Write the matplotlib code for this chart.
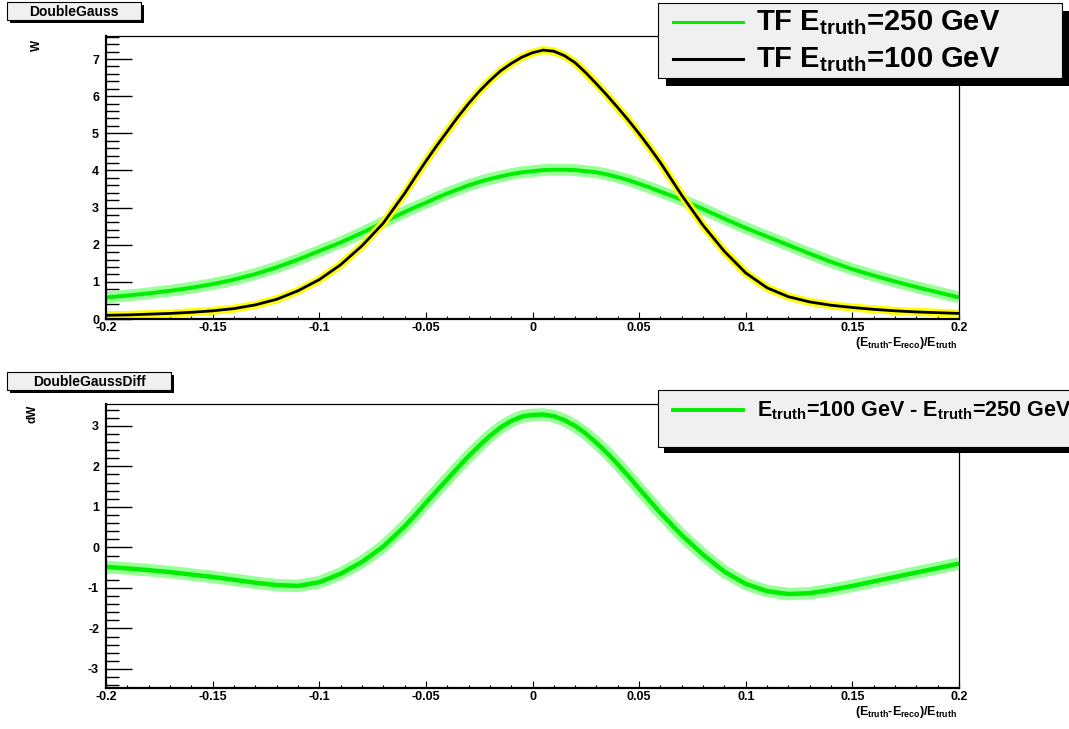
import numpy as np
import matplotlib
matplotlib.use("Agg")
import matplotlib.pyplot as plt
from matplotlib.patches import Rectangle
from matplotlib.lines import Line2D
from matplotlib.ticker import MultipleLocator

plt.rcParams['font.family'] = ['Liberation Sans', 'DejaVu Sans']
plt.rcParams['font.weight'] = 'bold'
plt.rcParams['axes.unicode_minus'] = False
plt.rcParams['mathtext.fontset'] = 'custom'
plt.rcParams['mathtext.rm'] = 'Liberation Sans:bold'
plt.rcParams['mathtext.it'] = 'Liberation Sans:bold'
plt.rcParams['mathtext.bf'] = 'Liberation Sans:bold'
plt.rcParams['mathtext.default'] = 'rm'

# x samples of (Etruth-Ereco)/Etruth (finer near the peak)
x = [-0.20, -0.19, -0.18, -0.17, -0.16, -0.15, -0.14, -0.13, -0.12, -0.11,
     -0.10, -0.09, -0.08, -0.07, -0.06, -0.055, -0.05, -0.045, -0.04, -0.035,
     -0.03, -0.025, -0.02, -0.015, -0.01, -0.005, 0.00, 0.005, 0.01, 0.015,
     0.02, 0.025, 0.03, 0.035, 0.04, 0.045, 0.05, 0.055, 0.06, 0.07,
     0.08, 0.09, 0.10, 0.11, 0.12, 0.13, 0.14, 0.15, 0.16, 0.17,
     0.18, 0.19, 0.20]

w_250 = [0.58, 0.63, 0.69, 0.76, 0.84, 0.94, 1.06, 1.21, 1.39, 1.60,
         1.83, 2.06, 2.32, 2.60, 2.88, 3.01, 3.13, 3.26, 3.38, 3.49,
         3.60, 3.69, 3.77, 3.84, 3.90, 3.95, 3.98, 4.01, 4.02, 4.02,
         4.01, 3.98, 3.95, 3.89, 3.82, 3.74, 3.64, 3.54, 3.43, 3.21,
         2.96, 2.70, 2.45, 2.22, 1.99, 1.76, 1.54, 1.34, 1.17, 1.01,
         0.86, 0.72, 0.58]

w_100 = [0.10, 0.11, 0.13, 0.15, 0.18, 0.22, 0.28, 0.38, 0.53, 0.76,
         1.06, 1.46, 1.97, 2.58, 3.38, 3.82, 4.25, 4.66, 5.05, 5.44,
         5.80, 6.13, 6.42, 6.68, 6.88, 7.05, 7.17, 7.24, 7.21, 7.09,
         6.90, 6.63, 6.33, 6.02, 5.69, 5.35, 4.99, 4.61, 4.21, 3.33,
         2.52, 1.82, 1.24, 0.84, 0.60, 0.46, 0.37, 0.31, 0.26, 0.22,
         0.19, 0.17, 0.15]

dw = [-0.48, -0.52, -0.56, -0.61, -0.67, -0.73, -0.80, -0.87, -0.93, -0.95,
      -0.86, -0.65, -0.36, 0.02, 0.52, 0.80, 1.10, 1.39, 1.68, 1.97,
      2.25, 2.51, 2.75, 2.96, 3.12, 3.23, 3.27, 3.28, 3.24, 3.14,
      3.00, 2.81, 2.58, 2.33, 2.05, 1.76, 1.45, 1.15, 0.85, 0.30,
      -0.18, -0.60, -0.90, -1.08, -1.15, -1.13, -1.05, -0.95, -0.84, -0.73,
      -0.62, -0.51, -0.40]

x_ticks = [-0.2, -0.15, -0.1, -0.05, 0, 0.05, 0.1, 0.15, 0.2]
x_ticklabels = ['-0.2', '-0.15', '-0.1', '-0.05', '0', '0.05', '0.1', '0.15', '0.2']

W, H = 1069, 729
fig = plt.figure(figsize=(W / 100, H / 100), dpi=100)

def px_axes(l, t, r, b):
    return fig.add_axes([l / W, 1 - b / H, (r - l) / W, (b - t) / H])

def style(ax, ylo, yhi):
    ax.set_xlim(-0.2, 0.2)
    ax.set_ylim(ylo, yhi)
    ax.set_xticks(x_ticks)
    ax.set_xticklabels(x_ticklabels)
    ax.xaxis.set_minor_locator(MultipleLocator(0.01))
    ax.yaxis.set_major_locator(MultipleLocator(1))
    ax.yaxis.set_minor_locator(MultipleLocator(0.2))
    ax.tick_params(axis='x', which='major', direction='in', length=5, width=0.8,
                   labelsize=9, pad=2.5, top=False)
    ax.tick_params(axis='x', which='minor', direction='in', length=2.5, width=0.8, top=False)
    ax.tick_params(axis='y', which='major', direction='in', length=19, width=1.0,
                   labelsize=9, pad=5, right=False)
    ax.tick_params(axis='y', which='minor', direction='in', length=9.5, width=1.0, right=False)
    for lab in ax.get_xticklabels() + ax.get_yticklabels():
        lab.set_fontweight('bold')
    ax.spines['left'].set_linewidth(1.6)
    ax.spines['bottom'].set_linewidth(1.6)
    ax.spines['top'].set_linewidth(0.9)
    ax.spines['right'].set_linewidth(0.9)

# top panel
ax1 = px_axes(106, 36, 959, 319)
ax1.plot(x, w_250, color='#99ff99', lw=8.5, solid_capstyle='butt', solid_joinstyle='round')
ax1.plot(x, w_250, color='#00ee00', lw=2.8, solid_capstyle='butt', solid_joinstyle='round')
ax1.plot(x, w_100, color='#ffff00', lw=5.8, solid_capstyle='butt', solid_joinstyle='round')
ax1.plot(x, w_100, color='black', lw=2.0, solid_capstyle='butt', solid_joinstyle='round')
style(ax1, 0, 7.62)

# bottom panel
ax2 = px_axes(106, 404, 959, 688)
ax2.plot(x, dw, color='#99ff99', lw=9, solid_capstyle='butt', solid_joinstyle='round')
ax2.plot(x, dw, color='#00ee00', lw=3.2, solid_capstyle='butt', solid_joinstyle='round')
style(ax2, -3.47, 3.54)

# overlay in pixel coordinates for boxes and titles
ov = fig.add_axes([0, 0, 1, 1], zorder=10)
ov.set_xlim(0, W)
ov.set_ylim(H, 0)
ov.axis('off')
ov.patch.set_alpha(0)

def shadow_box(l, t, r, b, off):
    ov.add_patch(Rectangle((l + off, t + off), r - l, b - t, facecolor='black',
                           edgecolor='none', clip_on=False))
    ov.add_patch(Rectangle((l, t), r - l, b - t, facecolor='#f0f0f0',
                           edgecolor='black', lw=0.8, clip_on=False))

shadow_box(7, 2, 141, 20, 3)
ov.text(74, 11.5, 'DoubleGauss', ha='center', va='center', fontsize=10, fontweight='bold')
shadow_box(7, 372, 171, 390, 3)
ov.text(89, 381.5, 'DoubleGaussDiff', ha='center', va='center', fontsize=10, fontweight='bold')

# legends
shadow_box(658, 3, 1062, 78, 8)
ov.add_line(Line2D([673, 743], [22, 22], color='#00ee00', lw=2.2))
ov.add_line(Line2D([673, 743], [59, 59], color='black', lw=2.2))
ov.text(756, 23, r'TF E$_{\rm truth}$=250 GeV', ha='left', va='center', fontsize=21, fontweight='bold')
ov.text(756, 60, r'TF E$_{\rm truth}$=100 GeV', ha='left', va='center', fontsize=21, fontweight='bold')

shadow_box(658, 390, 1080, 447, 6)
ov.add_line(Line2D([673, 743], [410, 410], color='#00ee00', lw=2.8))
ov.text(757, 411, r'E$_{\rm truth}$=100 GeV - E$_{\rm truth}$=250 GeV', ha='left', va='center',
        fontsize=15.5, fontweight='bold')

# axis titles
xlab = r'(E$_{\rm truth}$-E$_{\rm reco}$)/E$_{\rm truth}$'
ov.text(957, 335, xlab, ha='right', va='top', fontsize=9, fontweight='bold')
ov.text(957, 704, xlab, ha='right', va='top', fontsize=9, fontweight='bold')
ov.text(37, 40, 'W', ha='center', va='top', rotation=90, fontsize=8.5, fontweight='bold')
ov.text(33, 405, 'dW', ha='center', va='top', rotation=90, fontsize=8.5, fontweight='bold')

fig.savefig('out.png', dpi=100, facecolor='white')
